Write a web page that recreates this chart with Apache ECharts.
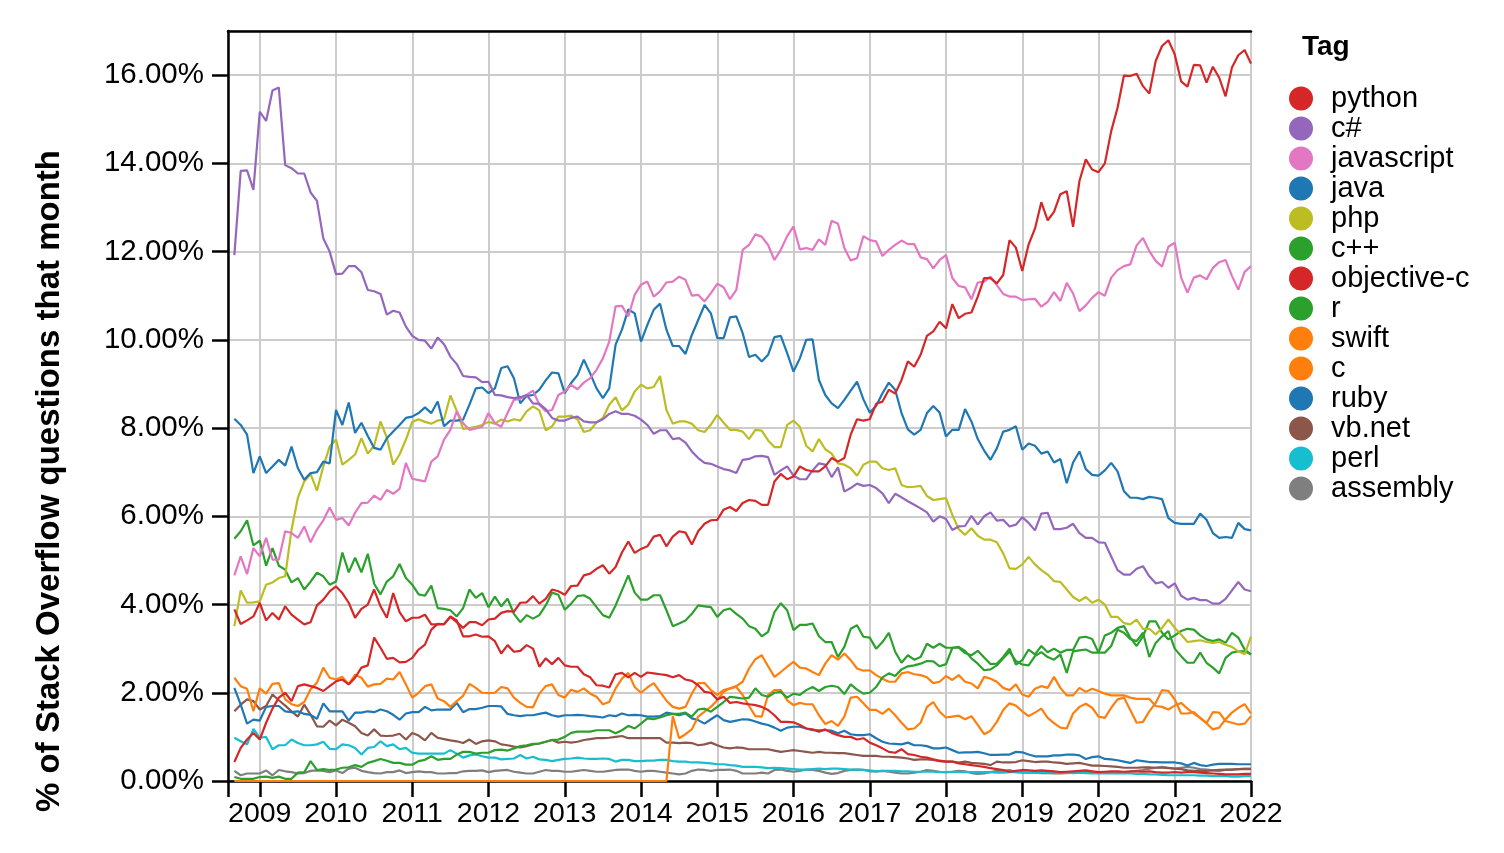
<!DOCTYPE html>
<html>
<head>
<meta charset="utf-8">
<script src="https://cdn.jsdelivr.net/npm/echarts@6/dist/echarts.min.js"></script>
<style>
html,body{margin:0;padding:0;background:#fff;}
#chart{width:1504px;height:853px;}
</style>
</head>
<body>
<div id="chart"></div>
<script>
// ---- data: monthly share (%) of Stack Overflow questions, first month 2008-09, last 2022-01 ----
const FIRST_YEAR = 2008;
const FIRST_MONTH = 9;
const AXIS_START_YEAR = 2008;
const AXIS_START_MONTH = 8;
const AXIS_END_YEAR = 2022;

const yearTicks = [2009, 2010, 2011, 2012, 2013, 2014, 2015, 2016, 2017, 2018, 2019, 2020, 2021, 2022];
const yTitle = '% of Stack Overflow questions that month';
const legendTitle = 'Tag';

const tags = ['python', 'c#', 'javascript', 'java', 'php', 'c++', 'objective-c', 'r', 'swift', 'c', 'ruby', 'vb.net', 'perl', 'assembly'];

const python = [3.89,3.56,3.64,3.73,4.04,3.64,3.81,3.66,3.96,3.77,3.66,3.55,3.6,3.98,4.11,4.3,4.41,4.26,4.04,3.7,3.9,4.0,4.34,3.96,3.7,4.26,3.83,3.62,3.7,3.7,3.77,3.55,3.55,3.56,3.72,3.6,3.47,3.6,3.6,3.53,3.66,3.68,3.81,
3.85,3.84,4.04,4.05,4.19,4.02,4.13,4.34,4.3,4.22,4.42,4.43,4.66,4.7,4.81,4.89,4.7,4.85,5.18,5.43,5.17,5.26,5.32,5.54,5.58,5.32,5.54,5.66,5.63,5.36,5.66,5.83,5.91,5.92,6.15,6.21,6.12,6.3,6.37,6.35,
6.26,6.26,6.79,6.96,6.84,6.9,7.13,7.05,7.02,7.02,7.13,7.32,7.24,7.32,7.85,8.2,8.17,8.2,8.55,8.6,8.87,8.78,9.09,9.51,9.39,9.66,10.09,10.19,10.41,10.26,10.81,10.49,10.59,10.62,10.98,11.4,11.4,11.28,11.47,12.26,
12.09,11.56,12.16,12.52,13.12,12.71,12.9,13.3,13.37,12.56,13.6,14.09,13.86,13.8,14.0,14.73,15.26,15.99,15.98,16.03,15.75,15.58,16.32,16.66,16.79,16.47,15.86,15.74,16.23,16.22,15.83,16.19,15.94,15.52,16.17,16.45,16.57,16.26];

const csharp = [11.92,13.83,13.84,13.4,15.17,14.96,15.65,15.72,13.96,13.89,13.77,13.77,13.34,13.15,12.3,12.0,11.49,11.5,11.67,11.67,11.53,11.13,11.1,11.04,10.57,10.66,10.62,10.3,10.09,10.0,9.98,9.8,10.05,9.9,9.62,9.45,9.18,9.16,9.15,9.04,9.05,8.75,8.74,
8.7,8.68,8.7,8.75,8.56,8.55,8.43,8.23,8.17,8.17,8.23,8.26,8.15,8.13,8.13,8.2,8.32,8.38,8.32,8.32,8.28,8.19,8.07,7.87,7.95,7.95,7.75,7.77,7.67,7.47,7.32,7.21,7.19,7.13,7.07,7.04,6.98,7.28,7.3,7.36,
7.37,7.34,6.94,7.04,7.13,6.92,6.84,6.84,7.04,7.2,7.17,6.89,7.11,6.56,6.64,6.74,6.69,6.71,6.64,6.52,6.3,6.51,6.43,6.34,6.26,6.18,6.09,5.88,6.0,5.94,5.69,5.77,5.78,6.01,5.81,6.0,6.09,5.9,5.92,5.77,
5.81,5.98,5.85,5.68,6.06,6.08,5.71,5.71,5.74,5.83,5.62,5.51,5.51,5.41,5.4,5.09,4.78,4.68,4.68,4.81,4.87,4.64,4.48,4.51,4.38,4.48,4.2,4.11,4.15,4.1,4.1,4.02,4.02,4.13,4.32,4.51,4.34,4.3];

const javascript = [4.66,5.09,4.69,5.28,5.09,5.51,5.02,5.02,5.66,5.62,5.51,5.77,5.41,5.7,5.91,6.2,5.92,5.96,5.79,6.08,6.3,6.31,6.47,6.37,6.6,6.51,6.62,7.21,6.85,6.82,6.79,7.24,7.36,7.74,7.96,8.38,8.11,7.96,7.99,8.03,8.34,8.11,8.03,
8.34,8.64,8.66,8.75,8.85,8.53,8.38,8.41,8.75,8.83,8.98,8.88,9.03,9.13,9.32,9.58,9.96,10.76,10.77,10.53,11.02,11.25,11.32,10.98,11.1,11.3,11.32,11.43,11.36,11.0,11.02,10.87,11.06,11.27,11.19,10.92,11.13,12.04,12.15,12.39,
12.34,12.15,11.81,12.04,12.35,12.57,12.05,12.08,12.04,12.28,12.15,12.7,12.63,12.08,11.8,11.85,12.35,12.26,12.23,11.9,12.04,12.15,12.25,12.17,12.17,11.87,11.83,11.62,11.81,11.92,11.4,11.22,11.19,10.92,11.3,11.32,11.43,11.24,11.04,10.98,
10.98,10.9,10.92,10.93,10.75,10.86,11.08,10.88,11.29,11.05,10.65,10.78,10.95,11.08,11.0,11.41,11.58,11.67,11.71,12.14,12.31,12.01,11.79,11.66,12.11,12.2,11.41,11.07,11.41,11.46,11.37,11.63,11.76,11.81,11.45,11.14,11.54,11.67];

const java = [8.21,8.07,7.85,6.98,7.36,6.98,7.13,7.28,7.15,7.58,7.09,6.83,6.98,7.0,7.24,7.2,8.41,8.07,8.58,7.89,8.12,7.82,7.55,7.51,7.77,7.92,8.07,8.23,8.26,8.34,8.47,8.34,8.6,8.04,8.17,8.17,8.19,8.53,8.9,8.92,8.79,8.9,9.36,
9.4,9.13,8.56,8.73,8.75,8.87,9.08,9.26,9.24,8.79,9.02,9.2,9.55,9.24,8.9,8.68,8.9,9.89,10.23,10.69,10.6,9.96,10.34,10.68,10.82,10.23,9.86,9.86,9.68,10.11,10.45,10.79,10.6,10.04,10.04,10.51,10.53,10.15,9.61,9.66,
9.51,9.66,10.06,10.09,9.7,9.28,9.58,10.0,10.01,9.09,8.75,8.56,8.45,8.64,8.85,9.05,8.65,8.35,8.5,8.79,9.03,8.87,8.34,7.97,7.85,7.96,8.34,8.5,8.35,7.81,7.96,7.96,8.43,8.15,7.75,7.49,7.28,7.54,7.92,7.96,
8.04,7.51,7.65,7.6,7.42,7.47,7.22,7.3,6.75,7.22,7.47,7.07,6.94,6.92,7.04,7.21,7.02,6.57,6.42,6.42,6.39,6.44,6.42,6.39,5.96,5.85,5.83,5.83,5.83,6.06,5.92,5.62,5.51,5.53,5.51,5.85,5.71,5.68];

const php = [3.51,4.32,4.04,4.05,4.07,4.45,4.5,4.6,4.64,5.7,6.42,6.79,6.96,6.58,7.13,7.58,7.74,7.17,7.28,7.4,7.77,7.42,7.6,8.15,7.78,7.17,7.4,7.74,8.14,8.2,8.14,8.1,8.17,8.2,8.74,8.39,7.98,8.0,8.03,8.07,8.14,8.1,8.19,
8.15,8.2,8.17,8.38,8.49,8.4,7.95,8.04,8.26,8.26,8.28,8.2,7.91,7.95,8.13,8.23,8.53,8.7,8.4,8.53,8.83,8.98,8.9,8.93,9.18,8.41,8.1,8.15,8.15,8.1,7.95,7.91,8.08,8.3,8.12,7.96,7.96,7.92,7.75,7.96,
7.94,7.72,7.57,7.57,8.07,8.17,8.03,7.6,7.47,7.75,7.52,7.42,7.2,7.17,7.09,6.92,7.17,7.24,7.24,7.09,7.05,7.09,6.71,6.66,6.67,6.69,6.46,6.37,6.39,6.41,6.03,5.71,5.58,5.73,5.56,5.47,5.47,5.41,5.16,4.82,
4.81,4.91,5.08,4.91,4.78,4.68,4.53,4.51,4.34,4.17,4.08,4.17,4.04,4.11,4.0,3.72,3.72,3.58,3.55,3.66,3.45,3.45,3.32,3.47,3.66,3.47,3.32,3.15,3.17,3.19,3.15,3.13,3.15,3.09,3.04,2.94,2.87,3.27];

const cpp = [5.49,5.66,5.91,5.34,5.45,4.88,5.28,4.88,4.79,4.5,4.6,4.34,4.52,4.72,4.64,4.45,4.52,5.18,4.73,5.06,4.73,5.15,4.47,4.23,4.52,4.64,4.92,4.6,4.45,4.23,4.2,4.43,3.92,3.9,3.87,3.73,3.92,4.34,4.15,4.26,3.94,4.18,3.96,
4.13,3.79,3.6,3.76,3.68,3.76,3.98,4.27,4.22,3.88,4.02,4.19,4.21,4.13,3.94,3.76,3.7,3.98,4.32,4.66,4.27,4.11,4.11,4.21,4.21,3.87,3.51,3.57,3.64,3.79,3.98,3.96,3.94,3.72,3.87,3.91,3.79,3.68,3.51,3.45,
3.28,3.38,3.83,4.03,3.87,3.42,3.54,3.54,3.57,3.28,3.15,3.15,2.81,3.04,3.45,3.53,3.27,3.25,3.0,3.15,3.36,2.93,2.68,2.85,2.75,2.81,3.11,3.02,3.11,3.02,3.02,3.02,2.9,2.85,2.95,2.8,2.65,2.66,2.81,3.0,
2.64,2.74,2.98,2.87,3.06,2.92,3.0,2.91,2.97,2.97,3.25,3.27,3.22,2.91,3.3,3.36,3.47,3.51,3.25,3.06,3.28,3.62,3.62,3.36,3.21,3.3,3.4,3.45,3.43,3.3,3.21,3.17,3.21,3.13,3.36,3.25,2.98,2.87];

const objectiveC = [0.43,0.75,0.94,1.09,0.94,1.32,1.64,1.89,2.0,1.81,2.15,2.19,2.15,2.11,2.04,2.15,2.26,2.3,2.19,2.34,2.57,2.62,3.25,3.02,2.77,2.79,2.69,2.7,2.79,2.98,3.09,3.43,3.56,3.55,3.73,3.64,3.28,3.28,3.32,3.27,3.28,3.17,2.89,
3.08,2.93,2.95,3.08,3.0,2.59,2.78,2.65,2.79,2.62,2.59,2.59,2.42,2.35,2.17,2.16,2.12,2.42,2.45,2.35,2.45,2.36,2.46,2.44,2.42,2.4,2.35,2.4,2.3,2.27,2.17,2.02,2.0,1.85,1.91,1.77,1.79,1.76,1.74,1.72,
1.68,1.61,1.49,1.34,1.34,1.33,1.27,1.19,1.17,1.12,1.17,1.09,1.04,1.0,1.0,0.94,0.97,0.87,0.81,0.74,0.66,0.64,0.72,0.61,0.59,0.55,0.53,0.49,0.46,0.44,0.44,0.4,0.38,0.36,0.34,0.32,0.29,0.27,0.25,0.21,
0.23,0.25,0.24,0.23,0.24,0.23,0.22,0.2,0.21,0.22,0.23,0.24,0.22,0.2,0.21,0.22,0.22,0.21,0.22,0.22,0.21,0.22,0.2,0.19,0.19,0.2,0.19,0.2,0.2,0.19,0.18,0.17,0.16,0.15,0.15,0.15,0.16,0.16];

const rLang = [0.09,0.05,0.05,0.05,0.09,0.1,0.07,0.1,0.05,0.05,0.19,0.2,0.45,0.25,0.27,0.25,0.26,0.3,0.31,0.36,0.32,0.41,0.45,0.5,0.46,0.41,0.41,0.37,0.37,0.45,0.48,0.56,0.48,0.5,0.5,0.6,0.66,0.66,0.62,0.64,0.64,0.7,0.71,
0.69,0.74,0.79,0.81,0.84,0.85,0.89,0.93,0.94,1.0,1.09,1.12,1.12,1.12,1.15,1.15,1.15,1.08,1.15,1.25,1.19,1.3,1.42,1.4,1.44,1.49,1.52,1.52,1.55,1.46,1.62,1.64,1.57,1.68,1.79,1.91,1.89,1.87,1.89,2.1,
1.95,1.91,2.0,2.02,1.89,1.98,1.95,2.06,2.13,2.04,2.13,2.16,2.13,1.97,2.19,2.07,1.98,2.0,2.13,2.35,2.44,2.38,2.53,2.6,2.62,2.66,2.72,2.71,2.6,2.65,3.02,3.04,2.95,2.78,2.66,2.51,2.53,2.62,2.78,2.93,
2.72,2.64,2.62,2.83,2.92,2.81,2.75,2.87,2.45,2.94,2.96,2.98,2.91,2.91,2.91,3.06,3.43,3.36,3.22,3.17,3.36,2.81,3.13,3.28,3.4,3.0,2.83,2.68,2.68,2.91,2.68,2.57,2.44,2.79,2.91,2.94,2.94,2.87];

const swift = [0,0,0,0,0,0,0,0,0,0,0,0,0,0,0,0,0,0,0,0,0,0,0,0,0,0,0,0,0,0,0,0,0,0,0,0,0,0,0,0,0,0,0,
0,0,0,0,0,0,0,0,0,0,0,0,0,0,0,0,0,0,0,0,0,0,0,0,0,0,1.47,0.97,1.06,1.17,1.46,1.57,1.68,1.83,2.02,2.1,2.15,2.25,2.55,2.76,
2.85,2.6,2.36,2.47,2.59,2.7,2.57,2.55,2.47,2.4,2.66,2.85,2.75,2.89,2.74,2.55,2.5,2.51,2.4,2.32,2.25,2.25,2.44,2.47,2.42,2.4,2.35,2.22,2.25,2.38,2.29,2.4,2.25,2.21,2.1,2.36,2.32,2.25,2.11,2.06,
2.19,1.96,1.91,2.09,2.15,2.11,2.36,2.11,1.94,1.94,2.11,2.02,2.09,2.04,1.98,1.94,1.94,1.94,1.89,1.86,1.86,1.86,1.7,1.68,1.62,1.71,1.77,1.64,1.53,1.43,1.31,1.17,1.21,1.4,1.55,1.66,1.74,1.53];

const cLang = [2.34,2.15,2.09,1.58,2.1,1.98,2.2,2.22,1.85,1.74,1.7,1.79,2.08,2.23,2.57,2.34,2.3,2.36,2.19,2.41,2.34,2.14,2.19,2.2,2.32,2.3,2.47,2.19,1.89,2.0,2.15,2.19,1.87,1.81,1.68,1.81,1.93,2.2,2.11,2.0,1.99,2.0,2.13,
2.1,1.89,1.77,1.68,1.67,1.98,2.15,2.19,1.95,1.89,2.07,2.02,2.1,1.98,1.91,1.74,1.79,2.1,2.32,2.45,2.13,2.0,2.12,2.22,2.02,1.82,1.68,1.64,1.68,1.98,2.22,2.22,2.06,1.95,2.06,2.1,2.13,1.95,1.7,1.47,
1.46,1.95,2.06,2.06,1.83,1.72,1.77,1.74,1.74,1.49,1.29,1.36,1.25,1.46,1.89,1.91,1.76,1.61,1.61,1.52,1.64,1.49,1.32,1.17,1.19,1.32,1.68,1.79,1.57,1.44,1.46,1.48,1.4,1.47,1.27,1.06,1.14,1.34,1.61,1.76,
1.71,1.58,1.47,1.55,1.64,1.43,1.31,1.21,1.19,1.53,1.68,1.75,1.66,1.46,1.43,1.66,1.85,1.89,1.61,1.32,1.34,1.58,1.77,2.06,2.04,1.85,1.53,1.53,1.56,1.43,1.31,1.56,1.55,1.36,1.32,1.28,1.3,1.47];

const ruby = [2.11,1.73,1.3,1.39,1.37,1.68,1.7,1.7,1.58,1.56,1.58,1.52,1.5,1.41,1.76,1.58,1.58,1.58,1.37,1.55,1.55,1.58,1.56,1.62,1.58,1.5,1.39,1.53,1.56,1.56,1.68,1.6,1.62,1.62,1.62,1.77,1.56,1.63,1.63,1.66,1.7,1.7,1.69,
1.52,1.49,1.47,1.49,1.49,1.52,1.55,1.49,1.46,1.49,1.49,1.5,1.49,1.47,1.46,1.44,1.49,1.47,1.53,1.49,1.5,1.49,1.46,1.46,1.47,1.55,1.52,1.49,1.53,1.42,1.38,1.3,1.4,1.49,1.38,1.34,1.37,1.4,1.39,1.35,
1.3,1.27,1.21,1.14,1.21,1.23,1.23,1.19,1.15,1.15,1.15,1.14,1.08,1.14,1.06,1.04,1.04,1.06,0.97,0.89,0.85,0.84,0.83,0.87,0.81,0.81,0.79,0.74,0.74,0.76,0.7,0.64,0.65,0.65,0.66,0.63,0.59,0.59,0.6,0.6,
0.66,0.65,0.6,0.56,0.56,0.56,0.58,0.58,0.6,0.6,0.58,0.5,0.54,0.56,0.5,0.49,0.47,0.44,0.41,0.47,0.45,0.43,0.43,0.42,0.42,0.42,0.4,0.35,0.41,0.36,0.34,0.37,0.39,0.39,0.39,0.38,0.38,0.38];

const vbnet = [1.58,1.73,1.85,1.81,1.62,1.7,1.96,1.83,1.71,1.58,1.46,1.73,1.5,1.24,1.23,1.37,1.26,1.39,1.32,1.24,1.09,1.03,1.17,1.03,1.02,1.03,1.07,0.94,1.09,1.03,0.92,1.09,0.98,0.95,0.92,0.9,0.86,0.94,0.84,0.9,0.92,0.9,0.83,
0.81,0.78,0.76,0.79,0.83,0.85,0.89,0.93,0.87,0.89,0.87,0.89,0.93,0.95,0.97,0.97,0.98,1.0,1.02,0.97,0.97,0.97,0.97,0.97,0.97,0.87,0.87,0.86,0.87,0.86,0.81,0.83,0.87,0.81,0.76,0.74,0.76,0.75,0.72,0.72,
0.72,0.72,0.69,0.66,0.68,0.7,0.68,0.66,0.64,0.66,0.64,0.64,0.63,0.63,0.61,0.59,0.57,0.57,0.57,0.55,0.55,0.54,0.53,0.51,0.48,0.49,0.49,0.48,0.45,0.44,0.44,0.42,0.44,0.41,0.4,0.39,0.36,0.44,0.42,0.42,
0.43,0.47,0.45,0.43,0.44,0.44,0.42,0.41,0.39,0.4,0.41,0.38,0.35,0.35,0.34,0.33,0.32,0.3,0.3,0.3,0.31,0.31,0.3,0.3,0.29,0.28,0.27,0.24,0.23,0.23,0.23,0.24,0.25,0.26,0.26,0.27,0.27,0.27];

const perl = [0.98,0.9,0.83,1.18,0.98,1.0,0.72,0.81,0.81,0.94,0.86,0.81,0.81,0.83,0.89,0.73,0.72,0.83,0.81,0.75,0.6,0.75,0.77,0.9,0.79,0.83,0.72,0.75,0.64,0.62,0.62,0.62,0.62,0.62,0.7,0.62,0.53,0.58,0.6,0.56,0.53,0.53,0.49,
0.5,0.51,0.59,0.51,0.55,0.49,0.48,0.45,0.48,0.5,0.51,0.53,0.51,0.5,0.5,0.51,0.5,0.44,0.48,0.48,0.45,0.45,0.46,0.46,0.48,0.48,0.45,0.44,0.44,0.42,0.42,0.41,0.4,0.38,0.38,0.36,0.35,0.32,0.32,0.32,
0.31,0.29,0.3,0.29,0.28,0.27,0.26,0.26,0.27,0.28,0.27,0.28,0.28,0.27,0.26,0.26,0.25,0.24,0.22,0.23,0.23,0.23,0.22,0.22,0.21,0.21,0.21,0.21,0.2,0.2,0.21,0.2,0.2,0.2,0.2,0.2,0.2,0.19,0.19,0.2,
0.2,0.2,0.19,0.19,0.2,0.2,0.19,0.19,0.19,0.18,0.19,0.18,0.17,0.17,0.17,0.17,0.17,0.17,0.17,0.16,0.16,0.15,0.15,0.14,0.13,0.13,0.13,0.13,0.13,0.12,0.12,0.11,0.11,0.11,0.1,0.1,0.11,0.11];

const assembly = [0.23,0.13,0.17,0.17,0.17,0.24,0.13,0.25,0.22,0.2,0.17,0.18,0.23,0.24,0.23,0.2,0.24,0.18,0.28,0.3,0.23,0.2,0.18,0.17,0.2,0.2,0.24,0.18,0.2,0.22,0.2,0.2,0.17,0.17,0.18,0.18,0.22,0.23,0.23,0.24,0.2,0.23,0.24,
0.25,0.21,0.19,0.17,0.17,0.21,0.25,0.23,0.23,0.21,0.21,0.23,0.25,0.23,0.21,0.21,0.23,0.25,0.26,0.26,0.23,0.21,0.23,0.23,0.21,0.19,0.17,0.15,0.17,0.23,0.26,0.25,0.23,0.25,0.25,0.26,0.23,0.17,0.17,0.17,
0.19,0.17,0.25,0.26,0.23,0.21,0.23,0.26,0.25,0.23,0.19,0.16,0.18,0.23,0.25,0.26,0.25,0.22,0.22,0.23,0.21,0.19,0.17,0.17,0.19,0.21,0.25,0.23,0.21,0.2,0.21,0.23,0.22,0.18,0.16,0.17,0.2,0.23,0.23,0.25,
0.2,0.19,0.19,0.19,0.18,0.18,0.17,0.17,0.18,0.19,0.2,0.2,0.2,0.19,0.19,0.19,0.2,0.2,0.21,0.23,0.25,0.28,0.3,0.32,0.3,0.28,0.3,0.32,0.3,0.27,0.26,0.24,0.23,0.25,0.26,0.27,0.28,0.28];

const seriesValues = [python, csharp, javascript, java, php, cpp, objectiveC, rLang, swift, cLang, ruby, vbnet, perl, assembly];
const tagColors = ['#d62728', '#9467bd', '#e377c2', '#1f77b4', '#bcbd22', '#2ca02c', '#d62728', '#2ca02c', '#ff7f0e', '#ff7f0e', '#1f77b4', '#8c564b', '#17becf', '#7f7f7f'];

// ---- chart ----
const FONT = '"Liberation Sans", Arial, Helvetica, sans-serif';
const xMin = AXIS_START_YEAR + (AXIS_START_MONTH - 1) / 12;
const xMax = AXIS_END_YEAR;
const monthX = i => FIRST_YEAR + (FIRST_MONTH - 1 + i) / 12;

const chart = echarts.init(document.getElementById('chart'), null, { renderer: 'canvas' });

const series = [];
for (let s = tags.length - 1; s >= 0; s--) {
  series.push({
    name: tags[s],
    type: 'line',
    data: seriesValues[s].map((v, i) => [monthX(i), v]),
    showSymbol: false,
    symbol: 'circle',
    lineStyle: { width: 2.2, color: tagColors[s] },
    itemStyle: { color: tagColors[s] },
    emphasis: { disabled: true },
    silent: true,
    z: 3
  });
}

const option = {
  animation: false,
  backgroundColor: '#ffffff',
  textStyle: { fontFamily: FONT },
  grid: { left: 228, right: 253, top: 31, bottom: 72, containLabel: false },
  title: {
    text: legendTitle,
    left: 1297,
    top: 28,
    textStyle: { fontFamily: FONT, fontSize: 28, fontWeight: 'bold', color: '#000' }
  },
  legend: {
    orient: 'vertical',
    left: 1284,
    top: 79,
    itemWidth: 50,
    itemHeight: 24,
    itemGap: 1,
    icon: 'circle',
    selectedMode: false,
    data: tags,
    textStyle: { fontFamily: FONT, fontSize: 29, color: '#000', lineHeight: 24 }
  },
  xAxis: [{
    type: 'value',
    min: xMin,
    max: xMax,
    axisLine: { show: true, onZero: false, lineStyle: { color: '#000', width: 2.5 } },
    axisTick: { show: true, length: 16, lineStyle: { color: '#000', width: 2.5 }, customValues: [xMin].concat(yearTicks) },
    axisLabel: { customValues: yearTicks, formatter: v => String(Math.round(v)), fontSize: 28.5, color: '#000', margin: 19, fontFamily: FONT },
    splitLine: { show: true, lineStyle: { color: '#cccccc', width: 2 } }
  }, {
    type: 'value',
    position: 'top',
    min: xMin,
    max: xMax,
    axisLine: { show: true, onZero: false, lineStyle: { color: '#000', width: 2.5 } },
    axisTick: { show: false },
    axisLabel: { show: false },
    splitLine: { show: false }
  }],
  yAxis: {
    type: 'value',
    min: 0,
    max: 17,
    interval: 2,
    axisLine: { show: true, onZero: false, lineStyle: { color: '#000', width: 2.5 } },
    axisTick: { show: true, length: 16, lineStyle: { color: '#000', width: 2.5 } },
    axisLabel: { formatter: v => v.toFixed(2) + '%', fontSize: 29.5, color: '#000', margin: 24, showMaxLabel: false, fontFamily: FONT },
    splitLine: { show: true, lineStyle: { color: '#cccccc', width: 2 } }
  },
  graphic: [{
    type: 'text',
    x: 50,
    y: 481,
    rotation: Math.PI / 2,
    silent: true,
    style: {
      text: yTitle,
      fill: '#000',
      font: 'bold 33px ' + FONT,
      align: 'center',
      verticalAlign: 'middle',
      textAlign: 'center',
      textVerticalAlign: 'middle'
    }
  }],
  series: series
};

chart.setOption(option);
</script>
</body>
</html>
